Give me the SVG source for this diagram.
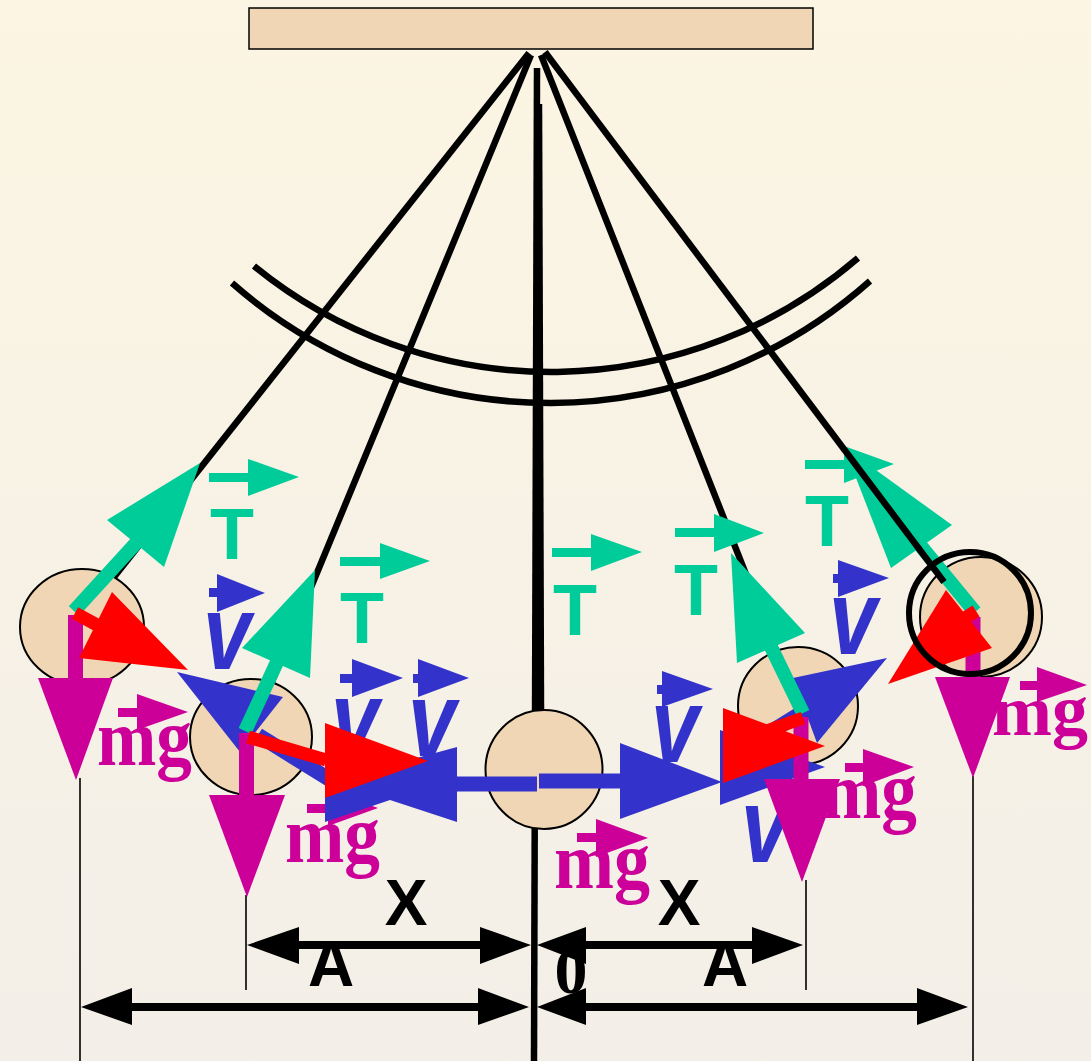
<svg xmlns="http://www.w3.org/2000/svg" width="1091" height="1061" viewBox="0 0 1091 1061">
<defs>
<linearGradient id="bg" x1="0" y1="0" x2="0" y2="1">
<stop offset="0" stop-color="#FCF5E3"/>
<stop offset="1" stop-color="#F3EFE8"/>
</linearGradient>
</defs>
<style>
.str{stroke:#000;stroke-width:6.5;fill:none}
.bob{fill:#F0D6B4;stroke:#000;stroke-width:2}
.thin{stroke:#000;stroke-width:1.6}
.dim{stroke:#000;stroke-width:8}
.blk{fill:#000}
.g{fill:#00CC99}.gs{stroke:#00CC99;stroke-width:14}
.b{fill:#3333CC}.bs{stroke:#3333CC;stroke-width:15}
.r{fill:#FF0000}.rs{stroke:#FF0000;stroke-width:13}
.m{fill:#CC0099}.ms{stroke:#CC0099;stroke-width:15}
.tl{font-family:"Liberation Sans",Arial,sans-serif;font-weight:bold;font-size:72px;fill:#00CC99;text-anchor:middle}
.vl{font-family:"Liberation Sans",Arial,sans-serif;font-weight:bold;font-style:italic;font-size:106px;fill:#3333CC}
.mg{font-family:"Liberation Serif","Times New Roman",serif;font-weight:bold;font-size:80px;fill:#CC0099}
.mgs{font-size:72px}
.dl{font-family:"Liberation Sans",Arial,sans-serif;font-weight:bold;font-size:64px;fill:#000;text-anchor:middle}
.zl{font-family:"Liberation Serif","Times New Roman",serif;font-weight:bold;font-size:66px;fill:#000;text-anchor:middle}
</style>
<rect width="1091" height="1061" fill="url(#bg)"/>
<g id="support"><rect x="249" y="8" width="564" height="41" fill="#F0D6B4" stroke="#000" stroke-width="1.5"/></g>
<g id="arcs">
<path class="str" d="M254,266 A470,470 0 0 0 858,258"/>
<path class="str" d="M232,283 A481,481 0 0 0 870,281"/>
</g>
<g id="strings">
<line class="str" x1="529" y1="53" x2="80" y2="620"/>
<line class="str" x1="531" y1="55" x2="250" y2="735"/>
<line class="str" x1="541" y1="55" x2="798" y2="706"/>
<line class="str" x1="537" y1="68" x2="534" y2="1061" stroke-width="7"/>
<line class="str" x1="539" y1="104" x2="541" y2="712" stroke-width="7"/>
</g>
<g id="bobs">
<ellipse id="bob1" class="bob" cx="82" cy="627" rx="62" ry="58"/>
<ellipse id="bob2" class="bob" cx="251" cy="737" rx="61" ry="58"/>
<ellipse id="bob3" class="bob" cx="544" cy="769.5" rx="58.5" ry="59.5"/>
<ellipse id="bob4" class="bob" cx="798" cy="706" rx="60" ry="59"/>
<ellipse id="bob5" class="bob" cx="981" cy="617" rx="61" ry="60"/>
</g>
<g id="extension-lines">
<line class="thin" x1="80" y1="778" x2="80" y2="1061"/>
<line class="thin" x1="246" y1="895" x2="246" y2="990"/>
<line class="thin" x1="806" y1="880" x2="806" y2="990"/>
<line class="thin" x1="973" y1="776" x2="973" y2="1061"/>
</g>
<g id="labels-T">
<text class="tl" x="232" y="559">T</text>
<text class="tl" x="362" y="643">T</text>
<text class="tl" x="575" y="635">T</text>
<text class="tl" x="696" y="615">T</text>
<text class="tl" x="827" y="546">T</text>
<g class="g">
<rect x="209" y="473" width="40" height="9"/><polygon points="248,459 248,496 299,477"/>
<rect x="340" y="557" width="41" height="9"/><polygon points="380,543 380,579 430,561"/>
<rect x="552" y="548" width="40" height="9"/><polygon points="591,534 591,571 642,552"/>
<rect x="675" y="528" width="40" height="9"/><polygon points="714,514 714,552 764,533"/>
<rect x="805" y="460" width="40" height="9"/><polygon points="844,446 844,483 894,464"/>
</g>
</g>
<g id="labels-v">
<text class="vl" x="203" y="669" textLength="48" lengthAdjust="spacingAndGlyphs">v</text>
<text class="vl" x="331" y="755" textLength="48" lengthAdjust="spacingAndGlyphs">v</text>
<text class="vl" x="408" y="756" textLength="48" lengthAdjust="spacingAndGlyphs">v</text>
<text class="vl" x="651" y="762" textLength="48" lengthAdjust="spacingAndGlyphs">v</text>
<text class="vl" x="741" y="862" textLength="48" lengthAdjust="spacingAndGlyphs">v</text>
<text class="vl" x="829" y="654" textLength="48" lengthAdjust="spacingAndGlyphs">v</text>
<g class="b">
<rect x="209" y="588" width="9" height="9"/><polygon points="217,574 217,612 265,593"/>
<rect x="340" y="674" width="13" height="9"/><polygon points="352,659 352,697 403,678"/>
<rect x="413" y="674" width="6" height="9"/><polygon points="418,659 418,697 469,678"/>
<rect x="657" y="685" width="6" height="9"/><polygon points="662,671 662,707 713,689"/>
<rect x="833" y="574" width="6" height="9"/><polygon points="838,560 838,597 889,578"/>
</g>
</g>
<g id="labels-mg">
<text class="mg" x="97" y="765" textLength="95" lengthAdjust="spacingAndGlyphs">mg</text>
<text class="mg" x="285" y="862" textLength="95" lengthAdjust="spacingAndGlyphs">mg</text>
<text class="mg" x="554" y="888" textLength="96" lengthAdjust="spacingAndGlyphs">mg</text>
<text class="mg" x="822" y="818" textLength="95" lengthAdjust="spacingAndGlyphs">mg</text>
<text class="mg mgs" x="992" y="735">mg</text>
<g class="m">
<rect x="118" y="708" width="20" height="9"/><polygon points="137,694 137,730 188,712"/>
<rect x="307" y="804" width="22" height="9"/><polygon points="328,790 328,826 378,808"/>
<rect x="577" y="833" width="20" height="9"/><polygon points="596,819 596,857 648,838"/>
<rect x="845" y="763" width="19" height="9"/><polygon points="863,749 863,786 914,767"/>
<rect x="1020" y="681" width="18" height="9"/><polygon points="1037,667 1037,702 1087,685"/>
</g>
</g>
<g id="velocity-arrows">
<line class="bs" x1="258" y1="735" x2="332" y2="781" stroke-width="16"/>
<polygon class="b" points="177,672 283,697 240,752"/>
<line class="bs" x1="745" y1="748" x2="806" y2="710" stroke-width="14"/>
<polygon class="b" points="887,658 793,678 817,743"/>
<line class="bs" x1="537" y1="784" x2="456" y2="784"/>
<polygon class="b" points="457,747 457,822 390,800 325,822 325,785 380,768"/>
<line class="bs" x1="539" y1="781" x2="621" y2="781"/>
<polygon class="b" points="620,743 620,819 722,782"/>
<polygon class="b" points="720,730 720,805 825,767"/>
</g>
<g id="tension-arrows">
<line class="gs" x1="74" y1="611" x2="137" y2="542"/>
<polygon class="g" points="200,463 107,520 164,567"/>
<line class="gs" x1="245" y1="731" x2="277" y2="662"/>
<polygon class="g" points="315,570 242,648 310,678"/>
<line class="gs" x1="803" y1="713" x2="771" y2="647"/>
<polygon class="g" points="731,553 737,663 805,633"/>
<line class="gs" x1="975" y1="612" x2="920" y2="545" stroke-width="11"/>
<polygon class="g" points="844,447 952,525 891,568"/>
</g>
<g id="gravity-arrows">
<line class="ms" x1="75.5" y1="615" x2="75.5" y2="680"/>
<polygon class="m" points="38,678 113,678 76,780"/>
<line class="ms" x1="246.5" y1="733" x2="246.5" y2="797"/>
<polygon class="m" points="209,795 285,795 247,897"/>
<line class="ms" x1="801" y1="717" x2="801" y2="781"/>
<polygon class="m" points="764,779 840,779 802,882"/>
<line class="ms" x1="973" y1="617" x2="973" y2="679"/>
<polygon class="m" points="935,677 1010,677 973,778"/>
</g>
<g id="restoring-arrows">
<line class="rs" x1="75" y1="613" x2="97" y2="625"/>
<polygon class="r" points="112,592 79,658 188,670"/>
<line class="rs" x1="248" y1="737" x2="326" y2="760" stroke-width="14"/>
<polygon class="r" points="325,723 428,761 325,798"/>
<line class="rs" x1="803" y1="718" x2="758" y2="734" stroke-width="14"/>
<polygon class="r" points="723,708 723,783 825,746"/>
<line class="rs" x1="976" y1="611" x2="960" y2="621" stroke-width="12"/>
<polygon class="r" points="946,590 992,648 888,684"/>
</g>
<g id="string5">
<line class="str" x1="545" y1="52" x2="944" y2="582" stroke-width="9"/>
<circle cx="970" cy="613" r="61" fill="none" stroke="#000" stroke-width="6"/>
</g>
<g id="dimension-labels">
<text class="dl" x="406" y="925">X</text>
<text class="dl" x="679" y="925">X</text>
<text class="dl" x="331" y="986">A</text>
<text class="dl" x="725" y="986">A</text>
<text class="zl" x="571" y="993">0</text>
</g>
<g id="dimension-arrows">
<line class="dim" x1="290" y1="945" x2="490" y2="945"/>
<polygon class="blk" points="247,945 299,927 299,964"/><polygon class="blk" points="531,945 480,927 480,964"/>
<line class="dim" x1="580" y1="945" x2="760" y2="945"/>
<polygon class="blk" points="537,945 586,927 586,964"/><polygon class="blk" points="803,945 752,927 752,964"/>
<line class="dim" x1="125" y1="1007" x2="485" y2="1007"/>
<polygon class="blk" points="81,1007 132,988 132,1025"/><polygon class="blk" points="529,1007 478,988 478,1025"/>
<line class="dim" x1="580" y1="1007" x2="925" y2="1007"/>
<polygon class="blk" points="537,1007 586,988 586,1025"/><polygon class="blk" points="968,1007 917,988 917,1025"/>
</g>
</svg>
